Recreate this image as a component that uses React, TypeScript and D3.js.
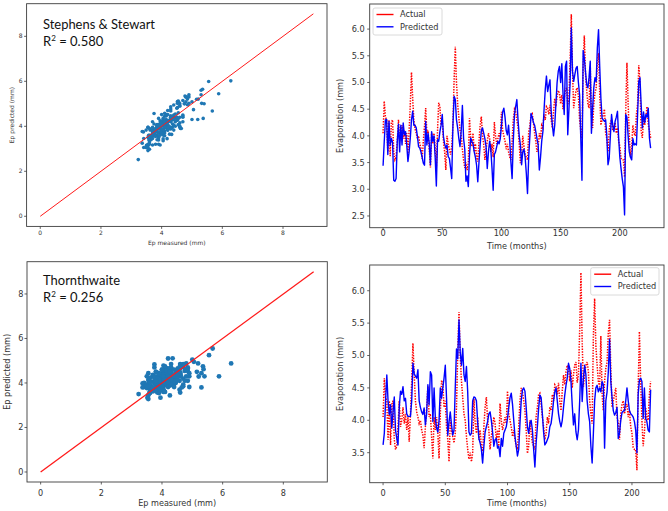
import React from 'react';
import * as d3 from 'd3';

// ---- data ----
const ACTUAL = [
  4.05, 4.65, 4.35, 4.3, 3.7, 4.3, 3.62, 4.25, 4.3, 3.7,
  3.55, 3.6, 3.9, 4.3, 3.9, 4.0, 4.2, 3.95, 4.1, 3.85,
  4.05, 3.67, 4.1, 4.6, 5.19, 4.7, 4.3, 4.13, 4.05, 3.95,
  4.0, 3.85, 3.77, 3.57, 3.9, 4.18, 4.52, 4.05, 4.1, 3.75,
  3.41, 4.05, 3.85, 4.05, 3.8, 3.41, 4.1, 4.62, 4.55, 4.2,
  4.3, 3.9, 3.7, 3.36, 4.0, 3.85, 3.75, 3.65, 3.8, 4.2,
  5.05, 5.67, 5.0, 4.6, 4.35, 4.1, 4.0, 3.75, 3.55, 3.4,
  3.5, 3.36, 3.5, 4.33, 3.96, 3.8, 4.05, 3.7, 3.85, 3.6,
  3.52, 3.9, 4.2, 4.36, 4.0, 3.85, 3.55, 3.75, 3.9, 4.05,
  3.95, 3.7, 3.85, 3.6, 4.26, 4.0, 3.85, 3.95, 4.05, 3.95,
  4.45, 4.1, 4.0, 3.9, 3.75, 3.85, 3.7, 3.6, 3.55, 3.9,
  4.3, 4.5, 4.45, 4.3, 4.15, 3.85, 3.49, 3.6, 4.0, 3.8,
  3.65, 3.6, 3.55, 4.06, 4.2, 4.4, 4.42, 4.25, 4.05, 3.9,
  3.7, 3.8, 4.05, 3.95, 4.2, 4.15, 4.4, 4.3, 4.55, 4.52,
  4.4, 4.58, 4.3, 4.15, 4.45, 4.7, 4.55, 4.75, 4.85, 4.8,
  4.6, 4.77, 4.5, 4.7, 4.85, 4.9, 4.58, 4.7, 5.4, 6.28,
  5.21, 4.52, 4.7, 4.85, 4.9, 4.75, 4.3, 4.1, 3.95, 5.3,
  5.88, 5.15, 4.85, 4.6, 4.52, 5.3, 4.4, 4.15, 4.6, 4.8,
  4.9, 5.35, 5.55, 4.8, 4.2, 4.3, 4.4, 4.5, 4.05, 3.95,
  3.7, 4.1, 4.25, 4.3, 4.1, 4.2, 4.25, 4.05, 4.15, 3.9,
  3.8, 3.58, 3.55, 3.55, 3.23, 4.5, 5.37, 4.6, 4.0, 3.6,
  3.8, 4.2, 4.05, 4.0, 4.4, 4.6, 5.32, 5.0, 4.1, 3.96,
  4.3, 4.2, 4.35, 4.55, 4.2, 4.1, 3.96,
];

const PRED_SS = [
  3.44, 3.9, 4.3, 4.31, 3.65, 4.27, 3.83, 3.95, 3.88, 3.17,
  3.15, 3.2, 3.9, 4.22, 3.7, 4.2, 3.83, 4.24, 4.02, 4.08,
  3.83, 3.52, 3.7, 3.96, 4.3, 4.46, 4.2, 4.2, 4.15, 3.99,
  3.8, 3.77, 3.7, 3.6, 3.49, 3.45, 4.27, 3.83, 4.05, 3.86,
  3.46, 4.08, 3.9, 4.0, 3.6, 3.06, 3.93, 3.9, 4.08, 4.2,
  4.4, 3.99, 3.85, 3.77, 3.83, 3.61, 3.58, 3.4, 3.2, 4.2,
  4.74, 4.68, 4.3, 4.15, 3.95, 3.8, 4.1, 4.57, 3.95, 3.75,
  3.15, 3.25, 3.05, 3.64, 3.96, 3.9, 3.85, 3.7, 3.6, 3.45,
  3.14, 3.5, 3.83, 4.1, 4.15, 4.05, 3.95, 3.8, 3.39, 3.7,
  3.9, 3.75, 3.4, 2.98, 3.65, 3.7, 3.8, 3.9, 3.85, 3.95,
  4.2, 4.45, 4.52, 4.35, 4.1, 4.02, 4.2, 3.9, 3.5, 3.2,
  3.9, 4.4, 4.55, 4.68, 4.3, 4.0, 3.83, 3.46, 3.7, 3.75,
  3.6, 3.3, 2.92, 3.6, 4.0, 4.42, 4.35, 4.25, 4.2, 4.08,
  3.95, 3.83, 3.36, 3.6, 3.9, 4.08, 4.5, 4.87, 5.12, 4.83,
  4.95, 5.05, 4.46, 4.2, 4.0, 4.2, 4.6, 5.0, 5.21, 5.3,
  5.0, 5.35, 4.8, 4.4, 5.3, 5.4, 4.02, 4.5, 5.0, 6.02,
  5.21, 5.02, 5.15, 5.27, 5.3, 5.0, 4.77, 3.96, 3.17, 5.6,
  5.45, 5.2, 4.96, 4.9, 5.1, 5.4, 4.05, 4.52, 4.9, 5.09,
  5.02, 5.65, 5.99, 5.3, 4.7, 4.33, 4.3, 4.27, 4.3, 4.0,
  3.46, 3.58, 4.0, 4.4, 4.2, 4.08, 4.27, 4.35, 4.46, 3.96,
  3.6, 3.39, 3.2, 3.05, 2.52, 4.4, 4.35, 4.0, 3.7, 3.6,
  3.55, 3.95, 3.83, 3.85, 3.83, 4.4, 5.02, 5.09, 4.58, 4.15,
  4.45, 4.25, 4.4, 4.35, 4.52, 3.96, 3.77,
];

const PRED_TH = [
  3.62, 3.8, 4.3, 4.7, 4.3, 4.09, 4.24, 3.88, 4.13, 4.36,
  3.85, 3.72, 3.62, 4.2, 4.45, 4.4, 4.52, 4.3, 4.34, 4.1,
  4.06, 4.06, 4.06, 4.3, 4.88, 4.72, 4.68, 4.65, 4.78, 4.3,
  4.2, 4.13, 4.09, 4.19, 3.93, 4.1, 4.55, 4.24, 4.75, 4.7,
  3.98, 4.5, 4.03, 3.88, 3.82, 4.0, 4.5, 4.34, 4.5, 4.65,
  4.85, 4.34, 3.77, 3.98, 4.13, 3.93, 3.77, 3.85, 4.5, 5.1,
  4.95, 5.55, 5.05, 4.85, 5.11, 4.7, 4.6, 4.83, 4.44, 3.82,
  3.77, 3.8, 4.3, 4.36, 4.35, 4.3, 3.98, 3.72, 3.65, 3.55,
  3.34, 3.6, 3.82, 3.9, 3.98, 4.1, 4.13, 4.0, 3.82, 3.6,
  3.7, 3.72, 3.57, 3.6, 3.44, 3.72, 3.6, 3.8, 3.85, 3.9,
  4.03, 4.2, 4.35, 4.42, 4.25, 4.0, 3.75, 3.6, 3.45, 3.55,
  3.95, 4.3, 4.47, 4.5, 4.45, 4.2, 3.9, 3.8, 3.95, 4.0,
  3.85, 3.55, 3.28, 3.65, 3.9, 4.18, 4.39, 4.35, 4.1, 3.82,
  3.62, 3.65, 3.7, 3.75, 3.9, 3.95, 4.1, 4.3, 4.44, 4.5,
  4.3, 4.1, 3.98, 3.9, 4.0, 4.2, 4.39, 4.54, 4.65, 4.88,
  4.8, 4.6, 4.24, 3.93, 4.1, 3.82, 3.7, 3.85, 4.3, 4.88,
  4.29, 4.65, 4.85, 4.7, 4.3, 4.1, 3.98, 3.6, 3.34, 3.8,
  4.3, 4.5, 4.54, 4.44, 4.5, 4.44, 4.6, 4.55, 3.57, 4.3,
  4.44, 4.75, 5.25, 4.6, 4.35, 4.15, 4.08, 4.12, 4.2, 3.72,
  3.8, 4.0, 4.12, 4.14, 4.15, 4.3, 4.5, 4.3, 4.15, 4.1,
  4.08, 4.05, 3.98, 3.85, 3.5, 4.4, 4.62, 4.65, 4.6, 4.03,
  4.5, 4.03, 3.98, 3.85, 3.82, 4.47,
];

const SCATTER_TICKS = [0, 2, 4, 6, 8];
const TIME_TICKS = [0, 50, 100, 150, 200];
const EVAP_TICKS_TOP = [2.5, 3.0, 3.5, 4.0, 4.5, 5.0, 5.5, 6.0];
const EVAP_TICKS_BOTTOM = [3.5, 4.0, 4.5, 5.0, 5.5, 6.0];
const SERIES_NAMES = ['Actual', 'Predicted'];
const MODEL_NAMES = ['Stephens & Stewart', 'Thornthwaite'];
const R2_VALUES = ['0.580', '0.256'];
const ONE_TO_ONE = [0, 9];

const FONT = 'DejaVu Sans, sans-serif';
const TITLE_FONT = 'Lato, "Open Sans", sans-serif';
const SPINE = '#3c3c3c';
const TXT = '#333';

type Box = { left: number; right: number; top: number; bottom: number };

type ScatterProps = {
  box: Box;
  mx: number[];
  py: number[];
  fs: number;
  tickY: number;
  tickRight: number;
  xLabelY: number;
  yLabelX: number;
  title: string;
  titleW: number;
  r2: string;
  titleX: number;
  titleY: number;
  r2Y: number;
  titleFs: number;
  dotR: number;
  lineW: number;
};

function ScatterPanel(p: ScatterProps) {
  const { box } = p;
  const x = d3.scaleLinear().domain([-0.45, 9.45]).range([box.left, box.right]);
  const y = d3.scaleLinear().domain([-0.45, 9.45]).range([box.bottom, box.top]);
  const pts = p.mx.map((m, i) => [m, p.py[i]]);
  const line = d3.line<number>().x((d) => x(d)).y((d) => y(d));
  const cy = (box.top + box.bottom) / 2;
  const cx = (box.left + box.right) / 2;
  const r2fs = p.titleFs * 0.93;
  return (
    <g>
      {pts.map((d, i) => (
        <circle key={i} cx={x(d[0])} cy={y(d[1])} r={p.dotR} fill="#1f77b4" />
      ))}
      <path d={line(ONE_TO_ONE) || ''} stroke="#ff1a1a" strokeWidth={p.lineW} fill="none" />
      <rect x={box.left} y={box.top} width={box.right - box.left} height={box.bottom - box.top}
        fill="none" stroke={SPINE} strokeWidth={0.9} />
      {SCATTER_TICKS.map((t) => (
        <g key={'x' + t}>
          <line x1={x(t)} x2={x(t)} y1={box.bottom} y2={box.bottom + 2.5} stroke={SPINE} strokeWidth={0.8} />
          <text x={x(t)} y={p.tickY} fontSize={p.fs} textAnchor="middle" fill={TXT} fontFamily={FONT}>{t}</text>
        </g>
      ))}
      {SCATTER_TICKS.map((t) => (
        <g key={'y' + t}>
          <line x1={box.left - 2.5} x2={box.left} y1={y(t)} y2={y(t)} stroke={SPINE} strokeWidth={0.8} />
          <text x={p.tickRight} y={y(t) + 0.36 * p.fs} fontSize={p.fs} textAnchor="end" fill={TXT} fontFamily={FONT}>{t}</text>
        </g>
      ))}
      <text x={cx} y={p.xLabelY} fontSize={p.fs} textAnchor="middle" fill={TXT} fontFamily={FONT}>Ep measured (mm)</text>
      <text transform={`translate(${p.yLabelX},${cy}) rotate(-90)`} fontSize={p.fs} textAnchor="middle" fill={TXT} fontFamily={FONT}>Ep predicted (mm)</text>
      <text x={p.titleX} y={p.titleY} fontSize={p.titleFs} fill="#111" fontFamily={TITLE_FONT}
        textLength={p.titleW} lengthAdjust="spacingAndGlyphs">{p.title}</text>
      <text x={p.titleX} y={p.r2Y} fontSize={r2fs} fill="#111" fontFamily={TITLE_FONT}>
        R<tspan fontSize={r2fs * 0.62} dy={-r2fs * 0.38}>2</tspan>
        <tspan dy={r2fs * 0.38}>{' = ' + p.r2}</tspan>
      </text>
    </g>
  );
}

type TimeProps = {
  box: Box;
  n: number;
  yDomain: [number, number];
  yTicks: number[];
  actual: number[];
  pred: number[];
  fs: number;
  tickY: number;
  tickRight: number;
  xLabelY: number;
  yLabelX: number;
  legend: { x: number; y: number; w: number; h: number };
};

function TimePanel(p: TimeProps) {
  const { box } = p;
  const m = (p.n - 1) * 0.05;
  const x = d3.scaleLinear().domain([-m, p.n - 1 + m]).range([box.left, box.right]);
  const y = d3.scaleLinear().domain(p.yDomain).range([box.bottom, box.top]);
  const line = d3.line<number>().x((_, i) => x(i)).y((d) => y(d));
  const cy = (box.top + box.bottom) / 2;
  const cx = (box.left + box.right) / 2;
  const L = p.legend;
  const rows = [L.y + 6.5, L.y + 18.8];
  return (
    <g>
      <path d={line(p.actual) || ''} stroke="#ff0000" strokeWidth={1.5} strokeDasharray="1.4,1.3" fill="none" />
      <path d={line(p.pred) || ''} stroke="#0000ff" strokeWidth={1.4} fill="none" strokeLinejoin="round" />
      <rect x={box.left} y={box.top} width={box.right - box.left} height={box.bottom - box.top}
        fill="none" stroke={SPINE} strokeWidth={0.9} />
      {TIME_TICKS.map((t) => (
        <g key={'x' + t}>
          <line x1={x(t)} x2={x(t)} y1={box.bottom} y2={box.bottom + 2.5} stroke={SPINE} strokeWidth={0.8} />
          <text x={x(t)} y={p.tickY} fontSize={p.fs} textAnchor="middle" fill={TXT} fontFamily={FONT}>{t}</text>
        </g>
      ))}
      {p.yTicks.map((t) => (
        <g key={'y' + t}>
          <line x1={box.left - 2.5} x2={box.left} y1={y(t)} y2={y(t)} stroke={SPINE} strokeWidth={0.8} />
          <text x={p.tickRight} y={y(t) + 0.36 * p.fs} fontSize={p.fs} textAnchor="end" fill={TXT} fontFamily={FONT}>{t.toFixed(1)}</text>
        </g>
      ))}
      <text x={cx} y={p.xLabelY} fontSize={p.fs} textAnchor="middle" fill={TXT} fontFamily={FONT}>Time (months)</text>
      <text transform={`translate(${p.yLabelX},${cy}) rotate(-90)`} fontSize={p.fs} textAnchor="middle" fill={TXT} fontFamily={FONT}>Evaporation (mm)</text>
      <rect x={L.x} y={L.y} width={L.w} height={L.h} rx={2} fill="#fff" fillOpacity={0.85} stroke="#d0d0d0" strokeWidth={0.8} />
      {SERIES_NAMES.map((s, i) => (
        <g key={s}>
          <line x1={L.x + 3.5} x2={L.x + 20.5} y1={rows[i]} y2={rows[i]} stroke={i === 0 ? '#ff0000' : '#0000ff'} strokeWidth={1.4} />
          <text x={L.x + 27} y={rows[i] + 0.36 * p.fs} fontSize={p.fs} fill={TXT} fontFamily={FONT}>{s}</text>
        </g>
      ))}
    </g>
  );
}

export default function App() {
  const thN = PRED_TH.length;
  return (
    <svg width={668} height={511} style={{ position: 'absolute', left: 0, top: 0, background: '#fff' }}>
      <rect width={668} height={511} fill="#fff" />
      <ScatterPanel
        box={{ left: 26.6, right: 327, top: 3.7, bottom: 226.4 }}
        mx={ACTUAL} py={PRED_SS} fs={6} tickY={235.4} tickRight={22.7}
        xLabelY={245} yLabelX={14} title={MODEL_NAMES[0]} titleW={112} r2={R2_VALUES[0]}
        titleX={43} titleY={28.5} r2Y={45.5} titleFs={14} dotR={1.8} lineW={1}
      />
      <ScatterPanel
        box={{ left: 27, right: 327.3, top: 261.7, bottom: 482 }}
        mx={ACTUAL.slice(0, thN)} py={PRED_TH} fs={8.1} tickY={496.2} tickRight={23.3}
        xLabelY={506.2} yLabelX={10.2} title={MODEL_NAMES[1]} titleW={77} r2={R2_VALUES[1]}
        titleX={43} titleY={285} r2Y={302.3} titleFs={14} dotR={2.4} lineW={1.3}
      />
      <TimePanel
        box={{ left: 369.7, right: 664, top: 4, bottom: 227.7 }}
        n={PRED_SS.length} yDomain={[2.28, 6.47]} yTicks={EVAP_TICKS_TOP}
        actual={ACTUAL} pred={PRED_SS} fs={8.2} tickY={236.3} tickRight={364.7}
        xLabelY={248.6} yLabelX={343} legend={{ x: 373, y: 8, w: 69, h: 27 }}
      />
      <TimePanel
        box={{ left: 369.7, right: 664, top: 265, bottom: 482.7 }}
        n={thN} yDomain={[3.037, 6.397]} yTicks={EVAP_TICKS_BOTTOM}
        actual={ACTUAL.slice(0, thN)} pred={PRED_TH} fs={8.2} tickY={496.2} tickRight={364.7}
        xLabelY={506.2} yLabelX={343} legend={{ x: 590.7, y: 267.7, w: 68.3, h: 27.3 }}
      />
    </svg>
  );
}
